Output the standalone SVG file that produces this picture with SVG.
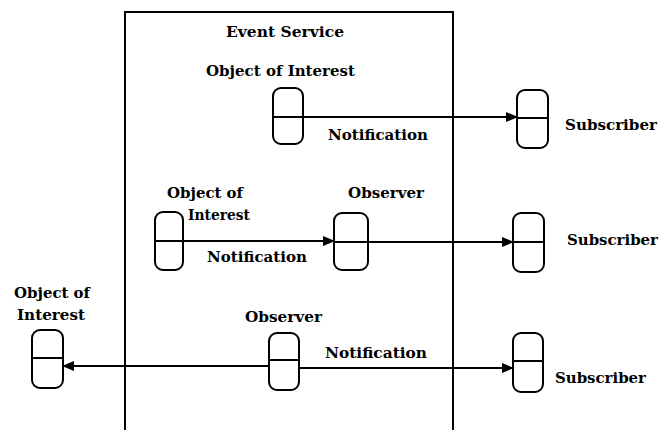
<svg xmlns="http://www.w3.org/2000/svg" width="660" height="430" viewBox="0 0 660 430">
<style>
.n{fill:#fff;stroke:#000;stroke-width:2}
.m{stroke:#000;stroke-width:2}
.c{stroke:#000;stroke-width:1.8;fill:none}
text{font-family:"DejaVu Serif","Liberation Serif",serif;font-size:14px;font-weight:bold;fill:#000}
</style>
<defs>
<marker id="ah" markerWidth="12" markerHeight="10" refX="11" refY="5" orient="auto" markerUnits="userSpaceOnUse">
<path d="M0,0 L12,5 L0,10 Z" fill="#000"/>
</marker>
</defs>
<rect width="660" height="430" fill="#fff"/>
<g id="event-service">
<rect x="125" y="12" width="328" height="440" fill="none" stroke="#000" stroke-width="2"/>
<text x="285" y="37" text-anchor="middle" textLength="118" lengthAdjust="spacingAndGlyphs">Event Service</text>
</g>
<g id="connectors">
<line class="c" x1="303" y1="117" x2="517" y2="117" marker-end="url(#ah)"/>
<line class="c" x1="183" y1="241" x2="334" y2="241" marker-end="url(#ah)"/>
<line class="c" x1="368" y1="242" x2="513" y2="242" marker-end="url(#ah)"/>
<line class="c" x1="269" y1="366" x2="63" y2="366" marker-end="url(#ah)"/>
<line class="c" x1="299" y1="368" x2="513" y2="368" marker-end="url(#ah)"/>
<text x="328" y="140" textLength="100" lengthAdjust="spacingAndGlyphs">Notification</text>
<text x="207" y="262" textLength="100" lengthAdjust="spacingAndGlyphs">Notification</text>
<text x="325" y="358" textLength="102" lengthAdjust="spacingAndGlyphs">Notification</text>
</g>
<g id="object-of-interest-1">
<rect class="n" x="273" y="88" width="30" height="56" rx="8"/>
<line class="m" x1="273" y1="117" x2="303" y2="117"/>
<text x="206" y="76" textLength="149" lengthAdjust="spacingAndGlyphs">Object of Interest</text>
</g>
<g id="subscriber-1">
<rect class="n" x="517" y="90" width="31" height="58" rx="8"/>
<line class="m" x1="517" y1="118" x2="548" y2="118"/>
<text x="565" y="130" textLength="92" lengthAdjust="spacingAndGlyphs">Subscriber</text>
</g>
<g id="object-of-interest-2">
<rect class="n" x="155" y="212" width="28" height="58" rx="8"/>
<line class="m" x1="155" y1="241" x2="183" y2="241"/>
<text x="167" y="198" textLength="76" lengthAdjust="spacingAndGlyphs">Object of</text>
<text x="188" y="220" textLength="62" lengthAdjust="spacingAndGlyphs">Interest</text>
</g>
<g id="observer-2">
<rect class="n" x="334" y="213" width="34" height="57" rx="8"/>
<line class="m" x1="334" y1="242" x2="368" y2="242"/>
<text x="348" y="198" textLength="76" lengthAdjust="spacingAndGlyphs">Observer</text>
</g>
<g id="subscriber-2">
<rect class="n" x="513" y="213" width="31" height="59" rx="8"/>
<line class="m" x1="513" y1="242" x2="544" y2="242"/>
<text x="567" y="245" textLength="91" lengthAdjust="spacingAndGlyphs">Subscriber</text>
</g>
<g id="object-of-interest-3">
<rect class="n" x="32" y="330" width="31" height="58" rx="8"/>
<line class="m" x1="32" y1="358" x2="63" y2="358"/>
<text x="14" y="298" textLength="76" lengthAdjust="spacingAndGlyphs">Object of</text>
<text x="17" y="320" textLength="68" lengthAdjust="spacingAndGlyphs">Interest</text>
</g>
<g id="observer-3">
<rect class="n" x="269" y="333" width="30" height="57" rx="8"/>
<line class="m" x1="269" y1="360" x2="299" y2="360"/>
<text x="245" y="322" textLength="77" lengthAdjust="spacingAndGlyphs">Observer</text>
</g>
<g id="subscriber-3">
<rect class="n" x="513" y="333" width="30" height="59" rx="8"/>
<line class="m" x1="513" y1="361" x2="543" y2="361"/>
<text x="555" y="383" textLength="91" lengthAdjust="spacingAndGlyphs">Subscriber</text>
</g>
</svg>
